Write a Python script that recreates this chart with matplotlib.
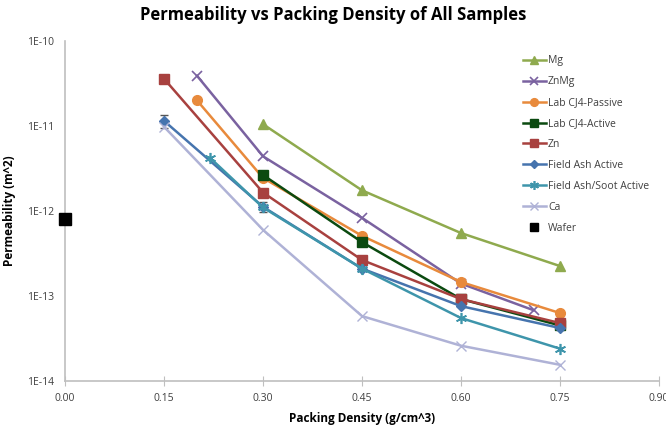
import matplotlib
matplotlib.use('Agg')
import matplotlib.pyplot as plt
from matplotlib.ticker import FixedLocator, FuncFormatter, NullLocator

plt.rcParams['font.family'] = ['Open Sans', 'DejaVu Sans']

# --- data ---
x_mg = [0.30, 0.45, 0.60, 0.75]
y_mg = [1.05e-11, 1.75e-12, 5.5e-13, 2.25e-13]

x_znmg = [0.20, 0.30, 0.45, 0.60, 0.71]
y_znmg = [3.9e-11, 4.4e-12, 8.3e-13, 1.4e-13, 6.8e-14]

x_passive = [0.20, 0.30, 0.45, 0.60, 0.75]
y_passive = [2.0e-11, 2.45e-12, 5.1e-13, 1.46e-13, 6.3e-14]

x_active = [0.30, 0.45, 0.60, 0.75]
y_active = [2.65e-12, 4.3e-13, 9.2e-14, 4.5e-14]

x_zn = [0.15, 0.30, 0.45, 0.60, 0.75]
y_zn = [3.6e-11, 1.65e-12, 2.65e-13, 9.2e-14, 4.8e-14]

x_ash = [0.15, 0.30, 0.45, 0.60, 0.75]
y_ash = [1.15e-11, 1.12e-12, 2.1e-13, 7.6e-14, 4.2e-14]
err_ash = [2.0e-12, 1.5e-13, 0, 0, 0]

x_soot = [0.22, 0.30, 0.45, 0.60, 0.75]
y_soot = [4.2e-12, 1.1e-12, 2.1e-13, 5.5e-14, 2.4e-14]

x_ca = [0.15, 0.30, 0.45, 0.60, 0.75]
y_ca = [9.8e-12, 6.0e-13, 5.8e-14, 2.6e-14, 1.55e-14]

x_wafer = [0.0]
y_wafer = [8.0e-13]

x_ticks = [0.00, 0.15, 0.30, 0.45, 0.60, 0.75, 0.90]
y_ticks = [1e-14, 1e-13, 1e-12, 1e-11, 1e-10]
y_tick_labels = ['1E-14', '1E-13', '1E-12', '1E-11', '1E-10']

fig = plt.figure(figsize=(6.66, 4.25), dpi=100)
ax = fig.add_axes([0.0976, 0.1035, 0.892, 0.80])

h_mg, = ax.plot(x_mg, y_mg, color='#8FAA4E', lw=1.8, marker='^', ms=7, label='Mg')
h_znmg, = ax.plot(x_znmg, y_znmg, color='#7A62A0', lw=1.8, marker='x', ms=7, mew=1.2, label='ZnMg')
h_pas, = ax.plot(x_passive, y_passive, color='#E88A3C', lw=1.8, marker='o', ms=7,
                 label='Lab CJ4-Passive')
h_act, = ax.plot(x_active, y_active, color='#0B4A10', lw=1.8, marker='s', ms=7,
                 label='Lab CJ4-Active')
h_zn, = ax.plot(x_zn, y_zn, color='#A8413F', lw=1.8, marker='s', ms=7, label='Zn')
ax.errorbar(x_ash, y_ash, yerr=err_ash, fmt='none', elinewidth=0.8, capsize=3, ecolor='#555555')
h_ash, = ax.plot(x_ash, y_ash, color='#4674AE', lw=1.8, marker='D', ms=5, label='Field Ash Active')
h_soot, = ax.plot(x_soot, y_soot, color='#3E95AB', lw=1.8, marker=(6, 2, 0), ms=8, mew=1.2,
                  label='Field Ash/Soot Active')
h_ca, = ax.plot(x_ca, y_ca, color='#AFB2D6', lw=1.8, marker='x', ms=7, mew=1.0, label='Ca')
h_waf, = ax.plot(x_wafer, y_wafer, ls='none', color='black', marker='s', ms=8, label='Wafer',
                 clip_on=False, zorder=5)

ax.set_yscale('log')
ax.set_xlim(0, 0.9)
ax.set_ylim(1e-14, 1e-10)
ax.xaxis.set_major_locator(FixedLocator(x_ticks))
ax.xaxis.set_major_formatter(FuncFormatter(lambda v, p: f'{v:.2f}'))
ax.yaxis.set_major_locator(FixedLocator(y_ticks))
ax.yaxis.set_major_formatter(FuncFormatter(
    lambda v, p: y_tick_labels[y_ticks.index(min(y_ticks, key=lambda t: abs(t - v)))]))
ax.yaxis.set_minor_locator(NullLocator())

for side in ['top', 'right']:
    ax.spines[side].set_visible(False)
for side in ['left', 'bottom']:
    ax.spines[side].set_color('#BFBFBF')
    ax.spines[side].set_linewidth(1.2)
ax.tick_params(axis='x', direction='inout', length=7, color='#BFBFBF', labelsize=7.5,
               labelcolor='#404040', pad=5)
ax.tick_params(axis='y', length=0, labelsize=7.5, labelcolor='#404040', pad=8)

ax.set_xlabel('Packing Density (g/cm^3)', fontsize=8.5, fontweight='bold', labelpad=6)
ax.set_ylabel('Permeability (m^2)', fontsize=8.5, fontweight='bold', labelpad=8)
fig.suptitle('Permeability vs Packing Density of All Samples', fontsize=12,
             fontweight='bold', y=0.985)

handles = [h_mg, h_znmg, h_pas, h_act, h_zn, h_ash, h_soot, h_ca, h_waf]
ax.legend(handles=handles, loc='upper left', bbox_to_anchor=(0.755, 0.985), frameon=False,
          fontsize=7.5, handlelength=2.2, handletextpad=0.2, labelspacing=0.95,
          markerscale=0.8, labelcolor='#404040')

fig.savefig('out.png', dpi=100)
